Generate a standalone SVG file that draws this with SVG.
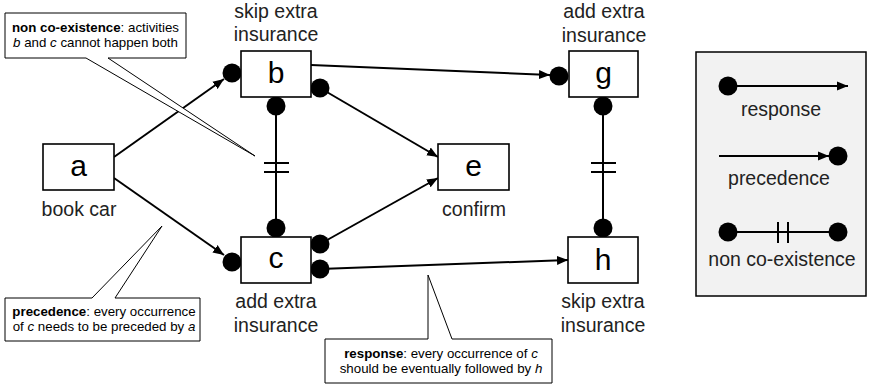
<svg xmlns="http://www.w3.org/2000/svg" width="870" height="388" viewBox="0 0 870 388">
<style>
.box{fill:#fff;stroke:#000;stroke-width:1.6}
.lbl{font-family:"Liberation Sans",Arial,sans-serif;font-size:19.5px;fill:#222;text-anchor:middle}
.let{font-family:"Liberation Sans",Arial,sans-serif;font-size:30px;fill:#000;text-anchor:middle}
.edge{stroke:#000;stroke-width:2;fill:none}
.arr{marker-end:url(#ah)}
.dot{fill:#000}
.call{fill:#fff;stroke:#000;stroke-width:1}
.ct{font-family:"Liberation Sans",Arial,sans-serif;font-size:13.3px;fill:#000;text-anchor:middle}
</style>
<defs>
<marker id="ah" markerUnits="userSpaceOnUse" markerWidth="12" markerHeight="10" refX="11" refY="5" orient="auto">
<path d="M0,0.5 L11,5 L0,9.5 Z" fill="#000"/>
</marker>
</defs>
<rect width="870" height="388" fill="#fff"/>

<g id="connectors">
<line class="edge arr" x1="114" y1="157" x2="224" y2="79"/>
<line class="edge arr" x1="114" y1="178" x2="224" y2="255"/>
<line class="edge arr" x1="320" y1="88" x2="438" y2="157"/>
<line class="edge arr" x1="320" y1="244" x2="438" y2="178"/>
<line class="edge arr" x1="311" y1="65" x2="550" y2="75"/>
<line class="edge arr" x1="320" y1="269" x2="568" y2="260"/>
<line class="edge" x1="276" y1="106" x2="276" y2="228"/>
<line class="edge" x1="264" y1="163" x2="289" y2="163"/>
<line class="edge" x1="264" y1="172" x2="289" y2="172"/>
<line class="edge" x1="603" y1="106" x2="603" y2="228"/>
<line class="edge" x1="591" y1="163" x2="616" y2="163"/>
<line class="edge" x1="591" y1="172" x2="616" y2="172"/>
<circle class="dot" cx="232" cy="73" r="9.5"/>
<circle class="dot" cx="276" cy="106" r="9.5"/>
<circle class="dot" cx="320" cy="88" r="9.5"/>
<circle class="dot" cx="276" cy="228" r="9.5"/>
<circle class="dot" cx="232" cy="262" r="9.5"/>
<circle class="dot" cx="320" cy="244" r="9.5"/>
<circle class="dot" cx="320" cy="269" r="9.5"/>
<circle class="dot" cx="559" cy="76" r="9.5"/>
<circle class="dot" cx="603" cy="106" r="9.5"/>
<circle class="dot" cx="603" cy="228" r="9.5"/>
</g>

<g id="node-a">
<rect class="box" x="43" y="144" width="71" height="46"/>
<text class="let" x="78.5" y="176">a</text>
<text class="lbl" x="79" y="216">book car</text>
</g>
<g id="node-b">
<rect class="box" x="241" y="51" width="70" height="46"/>
<text class="let" x="276" y="83">b</text>
<text class="lbl" x="276" y="18">skip extra</text>
<text class="lbl" x="276" y="41">insurance</text>
</g>
<g id="node-c">
<rect class="box" x="241" y="237" width="70" height="46"/>
<text class="let" x="276" y="268">c</text>
<text class="lbl" x="276" y="308">add extra</text>
<text class="lbl" x="276" y="332">insurance</text>
</g>
<g id="node-e">
<rect class="box" x="438" y="144" width="71" height="46"/>
<text class="let" x="473.5" y="176">e</text>
<text class="lbl" x="474" y="216">confirm</text>
</g>
<g id="node-g">
<rect class="box" x="569" y="51" width="69" height="46"/>
<text class="let" x="603.5" y="83">g</text>
<text class="lbl" x="604" y="18">add extra</text>
<text class="lbl" x="604" y="42">insurance</text>
</g>
<g id="node-h">
<rect class="box" x="568" y="237" width="70" height="46"/>
<text class="let" x="603" y="270">h</text>
<text class="lbl" x="603" y="308">skip extra</text>
<text class="lbl" x="603" y="332">insurance</text>
</g>

<g id="callout-noncoexistence">
<path class="call" d="M5,13 H186 V58 H108 L255,156 L86,58 H5 Z"/>
<text class="ct" x="95.5" y="32"><tspan font-weight="bold">non co-existence</tspan>: activities</text>
<text class="ct" x="95.5" y="47"><tspan font-style="italic">b</tspan> and <tspan font-style="italic">c</tspan> cannot happen both</text>
</g>
<g id="callout-precedence">
<path class="call" d="M5,298 H92 L162,226 L115,298 H200 V341 H5 Z"/>
<text class="ct" x="104" y="316"><tspan font-weight="bold">precedence</tspan>: every occurrence</text>
<text class="ct" x="104" y="331">of <tspan font-style="italic">c</tspan> needs to be preceded by <tspan font-style="italic">a</tspan></text>
</g>
<g id="callout-response">
<path class="call" d="M325,339 H428 V275 L452,339 H552 V383 H325 Z"/>
<text class="ct" x="441" y="358"><tspan font-weight="bold">response</tspan>: every occurrence of <tspan font-style="italic">c</tspan></text>
<text class="ct" x="441" y="373">should be eventually followed by <tspan font-style="italic">h</tspan></text>
</g>

<g id="legend">
<rect x="696" y="52" width="170" height="244" fill="#f2f2f2" stroke="#000" stroke-width="1.5"/>
<line class="edge arr" x1="728" y1="86" x2="848" y2="86"/>
<circle class="dot" cx="728" cy="86" r="9.5"/>
<text class="lbl" x="781" y="116">response</text>
<line class="edge arr" x1="719" y1="156" x2="829" y2="156"/>
<circle class="dot" cx="838" cy="156" r="9.5"/>
<text class="lbl" x="779" y="185">precedence</text>
<line class="edge" x1="728" y1="232" x2="838" y2="232"/>
<line class="edge" x1="778" y1="222" x2="778" y2="243"/>
<line class="edge" x1="788" y1="222" x2="788" y2="243"/>
<circle class="dot" cx="728" cy="232" r="9.5"/>
<circle class="dot" cx="838" cy="232" r="9.5"/>
<text class="lbl" x="782" y="266">non co-existence</text>
</g>
</svg>
